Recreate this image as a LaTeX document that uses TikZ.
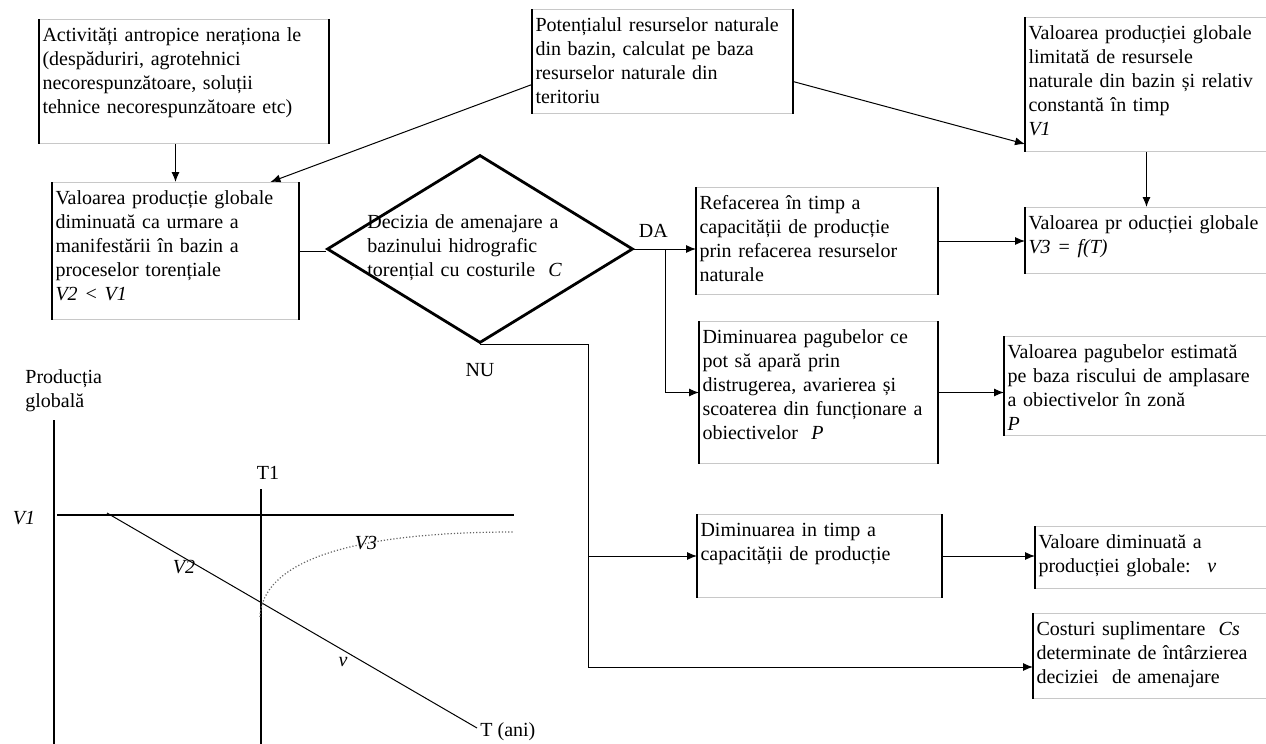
\documentclass[tikz,border=0pt]{standalone}
\usepackage{fontspec}
\setmainfont{Liberation Serif}
\usepackage{tikz}
\usetikzlibrary{arrows,arrows.meta,shapes,positioning}
\usepackage{xcolor}
\definecolor{boxgray}{RGB}{200,200,200}
\definecolor{curvegray}{RGB}{100,100,100}
\tikzstyle{arrow} = [line width=0.5pt,->,>={Latex[length=5pt,width=4pt]}]
\tikzstyle{link} = [line width=0.5pt]
\tikzstyle{axis} = [line width=0.75pt]
\tikzstyle{sideline} = [line width=1.1pt, black]
\tikzstyle{blocknode} = [rectangle, draw=boxgray, line width=0.5pt, anchor=north west, align=left, inner xsep=1.5pt, inner ysep=0pt, text height=11pt, append after command={(\tikzlastnode.north west) edge[sideline] (\tikzlastnode.south west) (\tikzlastnode.north east) edge[sideline] (\tikzlastnode.south east)}]
\tikzstyle{sidenode} = [rectangle, draw=boxgray, line width=0.5pt, anchor=north west, align=left, inner xsep=1.5pt, inner ysep=0pt, text height=11pt, append after command={(\tikzlastnode.north west) edge[sideline] (\tikzlastnode.south west)}]
\tikzstyle{decision} = [diamond, draw, line width=1.4pt, minimum width=153pt, minimum height=94pt, inner sep=0pt]
\tikzstyle{plain} = [anchor=base west, align=left, inner sep=0pt]

\begin{document}
\begin{tikzpicture}[x=0.5pt, y=-0.5pt, font=\fontsize{10}{12}\selectfont]
\useasboundingbox (0,0) rectangle (1266,744);

% upper boxes
\node[blocknode, text width=141.5pt, text depth=51pt] (act) at (39,19) {Activități antropice neraționa le\\(despăduriri, agrotehnici\\necorespunzătoare, soluții\\tehnice necorespunzătoare etc)};
\node[blocknode, text width=127pt, text depth=41pt] (pot) at (532,9) {Potențialul resurselor naturale\\din bazin, calculat pe baza\\resurselor naturale din\\teritoriu};
\node[sidenode, text width=118pt, text depth=56pt] (valone) at (1025,17) {Valoarea producției globale\\limitată de resursele\\naturale din bazin și relativ\\constantă în timp\\\textit{V1}};
\node[blocknode, text width=120pt, text depth=57.5pt] (valb) at (52,182) {Valoarea producție globale\\diminuată ca urmare a\\manifestării în bazin a\\proceselor torențiale\\\textit{V2 < V1}};

% decision
\node[decision] (dec) at (480,249) {};
\node[plain, text width=100pt] (dectext) at (367,228) {Decizia de amenajare a\\bazinului hidrografic\\torențial cu costurile \ \textit{C}};
\coordinate (dajct) at ([xshift=15.5pt]dec.east);
\node[above=2pt of dajct, xshift=-6pt] (da) {DA};
\node[below=6pt of dec.south] (nu) {NU};
\coordinate (nubot) at (588,667);

% middle column
\node[blocknode, text width=117.5pt, text depth=42.5pt] (refa) at (696,187) {Refacerea în timp a\\capacității de producție\\prin refacerea resurselor\\naturale};
\node[blocknode, text width=116pt, text depth=60pt] (pag) at (699,321) {Diminuarea pagubelor ce\\pot să apară prin\\distrugerea, avarierea și\\scoaterea din funcționare a\\obiectivelor \ \textit{P}};
\node[blocknode, text width=119pt, text depth=30.5pt] (dimt) at (697,514) {Diminuarea in timp a\\capacității de producție};

% right column
\node[sidenode, text width=118pt, text depth=22pt] (valthree) at (1025,207) {Valoarea pr oducției globale\\\textit{V3 = f(T)}};
\node[sidenode, text width=128.5pt, text depth=38.5pt] (valpag) at (1004,336) {Valoarea pagubelor estimată\\pe baza riscului de amplasare\\a obiectivelor în zonă\\\textit{P}};
\node[sidenode, text width=113pt, text depth=20pt] (valdim) at (1035,526) {Valoare diminuată a\\producției globale: \ \textit{v}};
\node[sidenode, text width=114pt, text depth=31.5pt] (cost) at (1033,613) {Costuri suplimentare \ \textit{Cs}\\determinate de întârzierea\\deciziei \ de amenajare};

% connectors
\draw[arrow] (act.south -| valb.north) -- (valb.north);
\draw[arrow] ([yshift=-11.5pt]pot.west) -- (valb.36);
\draw[arrow] ([yshift=-10pt]pot.east) -- ([yshift=4pt]valone.south west);
\draw[arrow] (valone) -- (valthree);
\draw[link] (valb.east) -- (valb.east -| dec.west);
\draw[arrow] (dec.east) -- (dec.east -| refa.west);
\draw[arrow] (dajct) |- (pag.west);
\draw[link] (dec.south) -| (nubot);
\draw[arrow] (nubot |- dimt.west) -- (dimt.west);
\draw[arrow] (nubot) -- (nubot -| cost.west);
\draw[arrow] (refa.east) -- (refa.east -| valthree.west);
\draw[arrow] (pag.east) -- (pag.east -| valpag.west);
\draw[arrow] (dimt.east) -- (dimt.east -| valdim.west);

% chart
\node[plain, text width=50pt] (ylabel) at (25,383) {Producția\\globală};
\draw[axis] (54,420) -- (54,744);
\draw[axis] (57,515) -- (514,515);
\draw[axis] (261,489) -- (261,744);
\draw[link] (107,513) -- (477,728);
\draw[curvegray, densely dotted, line width=0.6pt] (260,617) .. controls (262,565) and (340,532) .. (514,532);
\node (vone) at (24,518) {\textit{V1}};
\node (tone) at (268,473) {T1};
\node (vtwo) at (184,567) {\textit{V2}};
\node (vthree) at (366,543) {\textit{V3}};
\node (vsmall) at (343,662) {\textit{v}};
\node[anchor=west, inner sep=0pt] (tani) at (480,732) {T (ani)};
\end{tikzpicture}
\end{document}
